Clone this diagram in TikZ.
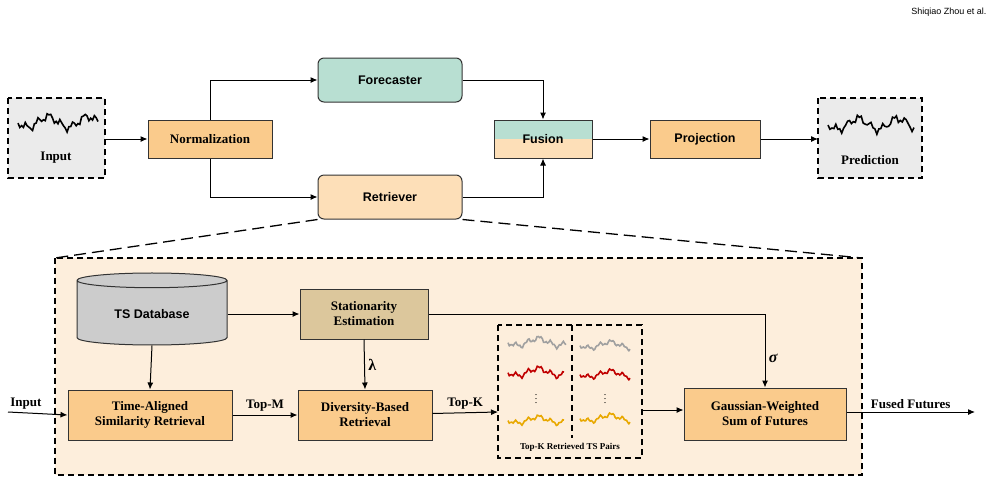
\documentclass[tikz,border=0pt]{standalone}
\usepackage{amsmath}
\usepackage{fontspec}
\setmainfont{Liberation Serif}
\setsansfont{Liberation Sans}
\usetikzlibrary{arrows.meta,shapes.geometric,positioning,calc}
\definecolor{boxorange}{HTML}{FACB8C}
\definecolor{lightorange}{HTML}{FDDFB8}
\definecolor{teal}{HTML}{B8DFD2}
\definecolor{tan}{HTML}{DCC79C}
\definecolor{panel}{HTML}{FDEEDC}
\definecolor{wgray}{HTML}{A0A0A0}
\definecolor{wred}{HTML}{C00000}
\definecolor{wgold}{HTML}{E8A800}
\tikzset{
	blk/.style={draw=black!80,line width=1pt,fill=boxorange,font=\bfseries\fontsize{13}{15}\selectfont,align=center},
	sblk/.style={blk,rounded corners=6pt,font=\sffamily\bfseries\fontsize{12.5}{15}\selectfont},
	lbl/.style={font=\bfseries\fontsize{13}{15}\selectfont},
	dbox/.style={draw,dashed,line width=1.3pt,dash pattern=on 6pt off 4pt},
	arr/.style={-{Latex[length=7pt,width=6pt]},line width=1pt},
}
\newcommand{\wave}[5]{% x0,y0,width,amp,color
	\draw[#5,line width=1.6pt] plot[domain=0:#3,samples=45,variable=\u]
		({#1+\u},{#2+#4*(0.6*sin(\u*9)+0.35*sin(\u*31+20)+0.2*sin(\u*83))});}
\begin{document}
\begin{tikzpicture}[x=1pt,y=-1pt]
	\useasboundingbox (0,0) rectangle (995,483);
	\node[font=\sffamily\fontsize{9}{11}\selectfont,anchor=east] (hdr) at (990,12) {Shiqiao Zhou et al.};

	% top pipeline
	\draw[dbox,fill=black!8] (8,98) rectangle (105,178);
	\wave{18}{122}{80}{9}{black}
	\node[lbl] (input) at (56,158) {Input};
	\coordinate (inR) at (105,139);
	\node[blk,minimum width=124,minimum height=38] (norm) at (210,139) {Normalization};
	\node[sblk,fill=teal,minimum width=144,minimum height=44] (fore) at (390,80) {Forecaster};
	\node[sblk,fill=lightorange,minimum width=144,minimum height=44] (retr) at (390,197) {Retriever};
	\fill[teal] (494,120) rectangle (592,139);
	\fill[lightorange] (494,139) rectangle (592,158);
	\node[sblk,fill=none,rounded corners=0pt,minimum width=98,minimum height=38] (fus) at (543,139) {Fusion};
	\node[sblk,rounded corners=0pt,minimum width=110,minimum height=38] (proj) at (705,139) {Projection};
	\draw[dbox,fill=black!8] (818,98) rectangle (922,178);
	\wave{828}{124}{86}{9}{black}
	\node[lbl] (pred) at (870,160) {Prediction};
	\coordinate (predL) at (818,139);

	\draw[arr] (inR) -- (norm);
	\draw[arr] (norm.north) |- (fore.west);
	\draw[arr] (norm.south) |- (retr.west);
	\draw[arr] (fore.east) -| (fus.north);
	\draw[arr] (retr.east) -| (fus.south);
	\draw[arr] (fus) -- (proj);
	\draw[arr] (proj) -- (predL);

	% zoomed retriever
	\draw[dbox,fill=panel] (55,258) rectangle (862,475);
	\draw[dbox,dash pattern=on 12pt off 6pt] (retr.south west) -- (55,258);
	\draw[dbox,dash pattern=on 12pt off 6pt] (retr.south east) -- (862,258);

	\node[cylinder,shape border rotate=90,aspect=0.18,draw=black!80,line width=1pt,fill=black!20,
		minimum width=150,minimum height=72,font=\sffamily\bfseries\fontsize{12.5}{15}\selectfont] (db) at (152,314) {TS Database};
	\node[blk,fill=tan,minimum width=128,minimum height=50] (stat) at (364,314) {Stationarity\\Estimation};
	\node[blk,minimum width=164,minimum height=50] (tasr) at (150,415) {Time-Aligned\\Similarity Retrieval};
	\node[blk,minimum width=134,minimum height=50] (dbr) at (365,415) {Diversity-Based\\Retrieval};
	\node[blk,minimum width=162,minimum height=52] (gws) at (765,414) {Gaussian-Weighted\\Sum of Futures};

	% retrieved pairs
	\draw[dbox] (498,325) rectangle (642,458);
	\draw[dbox] (572,325) -- (572,438);
	\coordinate (pairsL) at (498,412);
	\coordinate (pairsR) at (642,410);
	\wave{508}{342}{58}{6}{wgray}
	\wave{580}{345}{50}{5}{wgray}
	\wave{508}{372}{56}{6}{wred}
	\wave{580}{374}{50}{5}{wred}
	\wave{508}{420}{56}{5}{wgold}
	\wave{580}{418}{50}{5}{wgold}
	\node[inner sep=0pt] (dots1) at (536,396) {$\vdots$};
	\node[inner sep=0pt] (dots2) at (605,396) {$\vdots$};
	\node[font=\bfseries\fontsize{9}{11}\selectfont] (pairs) at (570,447) {Top-K Retrieved TS Pairs};

	\coordinate (inL) at (8,412);
	\coordinate (fused) at (975,412);
	\draw[arr] (db.east |- stat.west) -- (stat.west);
	\draw[arr] (db.south) -- (tasr.north);
	\draw[arr] (stat.south) -- node[right,font=\bfseries\fontsize{16}{18}\selectfont] {λ} (dbr.north);
	\draw[arr] (stat.east) -| node[pos=0.8,right,font=\bfseries\itshape\fontsize{16}{18}\selectfont] {σ} (gws.north);
	\draw[arr] (inL) -- node[above,pos=0.3,lbl] {Input} (tasr.west);
	\draw[arr] (tasr) -- node[above,lbl] {Top-M} (dbr);
	\draw[arr] (dbr) -- node[above,lbl] {Top-K} (pairsL);
	\draw[arr] (pairsR) -- (gws.west |- pairsR);
	\draw[arr] (gws.east |- fused) -- node[above,lbl] {Fused Futures} (fused);
\end{tikzpicture}
\end{document}
